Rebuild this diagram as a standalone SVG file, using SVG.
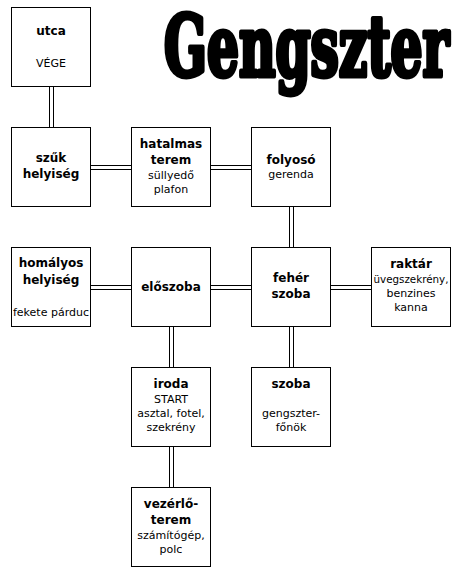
<svg xmlns="http://www.w3.org/2000/svg" width="462" height="576" viewBox="0 0 462 576">
<style>
.box{fill:#fff;stroke:#000;stroke-width:1}
.c{stroke:#000;stroke-width:1;fill:none}
.b{font-family:"DejaVu Sans",Verdana,sans-serif;font-weight:bold;font-size:12px;text-anchor:middle;fill:#000}
.n{font-family:"DejaVu Sans",Verdana,sans-serif;font-size:11px;text-anchor:middle;fill:#000}
.title{font-family:"DejaVu Serif","Liberation Serif",serif;font-weight:bold;font-stretch:condensed;font-size:84px;fill:#000;stroke:#000;stroke-width:5;stroke-linejoin:round}
</style>
<rect width="462" height="576" fill="#fff"/>
<text id="title" class="title" transform="translate(164,76) scale(0.665,1)" x="0" y="0">Gengszter</text>
<g id="connectors">
<path class="c" d="M49.5 86.5V127.5M53.5 86.5V127.5"/>
<path class="c" d="M90.5 165.5H131.5M90.5 169.5H131.5"/>
<path class="c" d="M210.5 165.5H251.5M210.5 169.5H251.5"/>
<path class="c" d="M289.5 206.5V247.5M293.5 206.5V247.5"/>
<path class="c" d="M90.5 285.5H131.5M90.5 289.5H131.5"/>
<path class="c" d="M210.5 285.5H251.5M210.5 289.5H251.5"/>
<path class="c" d="M330.5 285.5H371.5M330.5 289.5H371.5"/>
<path class="c" d="M169.5 326.5V367.5M173.5 326.5V367.5"/>
<path class="c" d="M289.5 326.5V367.5M293.5 326.5V367.5"/>
<path class="c" d="M169.5 446.5V487.5M173.5 446.5V487.5"/>
</g>
<g id="utca"><rect class="box" x="11.5" y="7.5" width="79" height="79"/><text class="b" x="51" y="35">utca</text><text class="n" x="51" y="67">VÉGE</text></g>
<g id="szuk"><rect class="box" x="11.5" y="127.5" width="79" height="79"/><text class="b" x="51" y="162">szűk</text><text class="b" x="51" y="178">helyiség</text></g>
<g id="hatalmas"><rect class="box" x="131.5" y="127.5" width="79" height="79"/><text class="b" x="171" y="148">hatalmas</text><text class="b" x="171" y="164">terem</text><text class="n" x="171" y="179">süllyedő</text><text class="n" x="171" y="193">plafon</text></g>
<g id="folyoso"><rect class="box" x="251.5" y="127.5" width="79" height="79"/><text class="b" x="291" y="164">folyosó</text><text class="n" x="291" y="178">gerenda</text></g>
<g id="homalyos"><rect class="box" x="11.5" y="247.5" width="79" height="79"/><text class="b" x="51" y="267">homályos</text><text class="b" x="51" y="284">helyiség</text><text class="n" x="51" y="316">fekete párduc</text></g>
<g id="eloszoba"><rect class="box" x="131.5" y="247.5" width="79" height="79"/><text class="b" x="171" y="291">előszoba</text></g>
<g id="feher"><rect class="box" x="251.5" y="247.5" width="79" height="79"/><text class="b" x="291" y="282">fehér</text><text class="b" x="291" y="298">szoba</text></g>
<g id="raktar"><rect class="box" x="371.5" y="247.5" width="79" height="79"/><text class="b" x="411" y="268">raktár</text><text class="n" x="411" y="283" textLength="75" lengthAdjust="spacingAndGlyphs">üvegszekrény,</text><text class="n" x="411" y="297">benzines</text><text class="n" x="411" y="311">kanna</text></g>
<g id="iroda"><rect class="box" x="131.5" y="367.5" width="79" height="79"/><text class="b" x="171" y="388">iroda</text><text class="n" x="171" y="403">START</text><text class="n" x="171" y="417">asztal, fotel,</text><text class="n" x="171" y="431">szekrény</text></g>
<g id="szoba"><rect class="box" x="251.5" y="367.5" width="79" height="79"/><text class="b" x="291" y="388">szoba</text><text class="n" x="291" y="417">gengszter-</text><text class="n" x="291" y="431">főnök</text></g>
<g id="vezerlo"><rect class="box" x="131.5" y="487.5" width="79" height="79"/><text class="b" x="171" y="508">vezérlő-</text><text class="b" x="171" y="524">terem</text><text class="n" x="171" y="539">számítógép,</text><text class="n" x="171" y="553">polc</text></g>
</svg>
